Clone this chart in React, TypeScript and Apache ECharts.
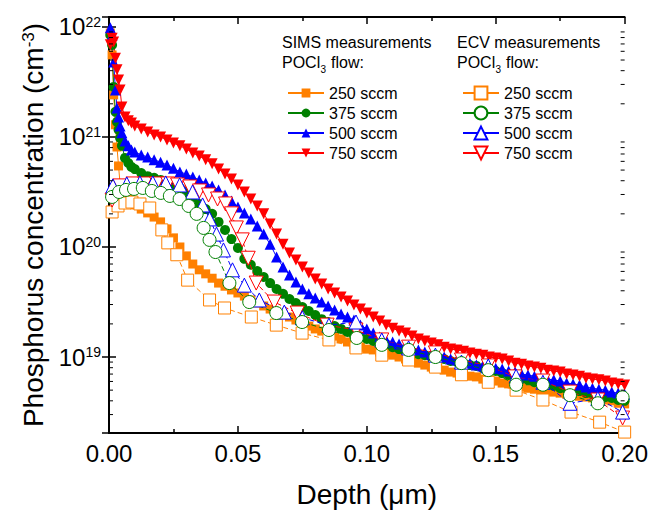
import React, { useEffect, useRef } from 'react';
import * as echarts from 'echarts';

const FONT = '"Liberation Sans", Arial, Helvetica, sans-serif';

// SIMS depth grid (µm)
const SIMS_DEPTH = [
  0.0005, 0.0012, 0.0018, 0.0025, 0.0031, 0.0037, 0.0043, 0.005, 0.0062, 0.0075, 0.0087,
  0.01, 0.0125, 0.015, 0.0175, 0.02, 0.0225, 0.025,
  0.0275, 0.03, 0.0325, 0.035, 0.0375, 0.04, 0.0425, 0.045, 0.0475, 0.05,
  0.0525, 0.055, 0.0575, 0.06, 0.0625, 0.065, 0.0675, 0.07, 0.0725, 0.075,
  0.0775, 0.08, 0.0825, 0.085, 0.0875, 0.09, 0.0925, 0.095, 0.0975, 0.1,
  0.1025, 0.105, 0.1075, 0.11, 0.1125, 0.115, 0.1175, 0.12, 0.1225, 0.125,
  0.1275, 0.13, 0.1325, 0.135, 0.1375, 0.14, 0.1425, 0.145, 0.1475, 0.15,
  0.1525, 0.155, 0.1575, 0.16, 0.1625, 0.165, 0.1675, 0.17, 0.1725, 0.175,
  0.1775, 0.18, 0.1825, 0.185, 0.1875, 0.19, 0.1925, 0.195, 0.1975, 0.2,
];

const SIMS_250 = [
  8.8e21, 5.56e21, 2.41e21, 1.29e21, 8.1e20, 5.45e20, 3.75e20, 3.3e20, 2.91e20, 2.73e20, 2.56e20,
  2.41e20, 2.21e20, 2.04e20, 1.87e20, 1.69e20, 1.46e20, 1.21e20,
  1.0e20, 8.3e19, 7.0e19, 6.2e19, 5.7e19, 5.2e19, 4.7e19, 4.4e19, 4.07e19, 3.82e19,
  3.58e19, 3.3e19, 3.1e19, 2.91e19, 2.73e19, 2.56e19, 2.46e19, 2.31e19, 2.17e19, 2.04e19,
  1.91e19, 1.8e19, 1.72e19, 1.62e19, 1.55e19, 1.46e19, 1.37e19, 1.29e19, 1.23e19, 1.18e19,
  1.16e19, 1.11e19, 1.09e19, 1.04e19, 1.0e19, 9.6e18, 9.2e18, 8.8e18, 8.45e18, 8.1e18,
  7.9e18, 7.6e18, 7.3e18, 7.15e18, 6.9e18, 6.7e18, 6.6e18, 6.3e18, 6.2e18, 6.05e18,
  5.8e18, 5.7e18, 5.45e18, 5.34e18, 5.2e18, 5.1e18, 5.0e18, 4.9e18, 4.8e18, 4.7e18,
  4.6e18, 4.5e18, 4.4e18, 4.33e18, 4.25e18, 4.15e18, 4.07e18, 4.0e18, 3.8e18, 3.75e18,
];

const SIMS_375 = [
  8.45e21, 6.86e21, 2.85e21, 1.69e21, 1.37e21, 1.16e21, 9.8e20, 8.3e20, 6.45e20, 5.8e20, 5.34e20,
  5.1e20, 4.7e20, 4.4e20, 4.25e20, 4.07e20, 3.9e20, 3.66e20,
  3.44e20, 3.16e20, 2.79e20, 2.46e20, 2.21e20, 2.0e20, 1.69e20, 1.43e20, 1.18e20, 9.8e19,
  7.8e19, 6.9e19, 6.05e19, 5.34e19, 4.7e19, 4.15e19, 3.75e19, 3.37e19, 3.1e19, 2.85e19,
  2.62e19, 2.41e19, 2.21e19, 2.08e19, 1.91e19, 1.8e19, 1.69e19, 1.58e19, 1.52e19, 1.46e19,
  1.4e19, 1.34e19, 1.29e19, 1.23e19, 1.18e19, 1.13e19, 1.11e19, 1.06e19, 1.04e19, 1.0e19,
  9.8e18, 9.6e18, 9.2e18, 9.0e18, 8.6e18, 8.45e18, 8.3e18, 7.9e18, 7.6e18, 7.46e18,
  7.15e18, 6.86e18, 6.58e18, 6.31e18, 6.2e18, 5.9e18, 5.7e18, 5.56e18, 5.45e18, 5.2e18,
  5.1e18, 5.0e18, 4.9e18, 4.7e18, 4.6e18, 4.5e18, 4.33e18, 4.25e18, 4.07e18, 4.0e18,
];

const SIMS_500 = [
  9.8e21, 8.45e21, 4.8e21, 2.67e21, 1.83e21, 1.52e21, 1.26e21, 1.09e21, 9.2e20, 8.3e20, 7.6e20,
  7.3e20, 6.86e20, 6.58e20, 6.2e20, 5.9e20, 5.56e20, 5.2e20,
  4.8e20, 4.6e20, 4.33e20, 4.07e20, 3.82e20, 3.58e20, 3.3e20, 2.97e20, 2.62e20, 2.31e20,
  2.04e20, 1.8e20, 1.55e20, 1.31e20, 1.06e20, 8.1e19, 6.58e19, 5.56e19, 4.8e19, 4.15e19,
  3.75e19, 3.44e19, 3.16e19, 2.91e19, 2.67e19, 2.46e19, 2.31e19, 2.17e19, 1.95e19, 1.8e19,
  1.65e19, 1.52e19, 1.43e19, 1.37e19, 1.31e19, 1.26e19, 1.21e19, 1.16e19, 1.11e19, 1.06e19,
  1.04e19, 1.0e19, 9.6e18, 9.4e18, 9.0e18, 8.8e18, 8.45e18, 8.3e18, 8.1e18, 7.9e18,
  7.8e18, 7.46e18, 7.3e18, 7.0e18, 6.86e18, 6.7e18, 6.45e18, 6.31e18, 6.2e18, 6.05e18,
  5.8e18, 5.7e18, 5.56e18, 5.34e18, 5.2e18, 5.1e18, 5.0e18, 4.8e18, 4.7e18, 4.6e18,
];

const SIMS_750 = [
  6.9e21, 7.9e21, 7.3e21, 5.2e21, 4.07e21, 3.3e21, 2.67e21, 1.87e21, 1.52e21, 1.4e21, 1.34e21,
  1.26e21, 1.18e21, 1.11e21, 1.04e21, 1.0e21, 9.4e20, 8.8e20,
  8.3e20, 7.78e20, 7.15e20, 6.7e20, 6.2e20, 5.7e20, 5.12e20, 4.6e20, 4.15e20, 3.66e20,
  3.16e20, 2.73e20, 2.36e20, 2.0e20, 1.62e20, 1.31e20, 1.06e20, 8.8e19, 7.6e19, 6.58e19,
  5.8e19, 5.12e19, 4.6e19, 4.15e19, 3.82e19, 3.51e19, 3.23e19, 2.97e19, 2.73e19, 2.51e19,
  2.31e19, 2.12e19, 1.95e19, 1.83e19, 1.72e19, 1.65e19, 1.55e19, 1.46e19, 1.4e19, 1.34e19,
  1.29e19, 1.23e19, 1.18e19, 1.16e19, 1.13e19, 1.09e19, 1.06e19, 1.04e19, 1.0e19, 9.8e18,
  9.6e18, 9.2e18, 8.8e18, 8.6e18, 8.3e18, 8.1e18, 7.9e18, 7.6e18, 7.46e18, 7.3e18,
  7.0e18, 6.86e18, 6.7e18, 6.45e18, 6.31e18, 6.2e18, 6.05e18, 5.8e18, 5.7e18, 5.56e18,
];

// ECV measurements
const ECV_250_DEPTH = [0.0012, 0.0035, 0.0062, 0.0089, 0.012, 0.0158, 0.0205, 0.0228, 0.0263, 0.0305, 0.039, 0.0448, 0.0552, 0.0649, 0.0749, 0.0853, 0.0958, 0.1058, 0.1162, 0.1266, 0.1367, 0.1471, 0.1579, 0.1683, 0.1792, 0.1903, 0.2];
const ECV_250 = [2.08e20, 2.36e20, 2.51e20, 2.56e20, 2.46e20, 2.26e20, 1.43e20, 1.09e20, 8.5e19, 5.0e19, 3.3e19, 2.79e19, 2.31e19, 1.95e19, 1.65e19, 1.43e19, 1.21e19, 1.04e19, 9.4e18, 8.1e18, 6.9e18, 5.9e18, 5.0e18, 4.07e18, 3.16e18, 2.56e18, 2.08e18];

const ECV_375_DEPTH = [0.0012, 0.0039, 0.0066, 0.0097, 0.0131, 0.0166, 0.0201, 0.0236, 0.0274, 0.0309, 0.034, 0.0367, 0.039, 0.0413, 0.0467, 0.0544, 0.0649, 0.0749, 0.0853, 0.0961, 0.1058, 0.1162, 0.1266, 0.1367, 0.1471, 0.1579, 0.1683, 0.1788, 0.1896, 0.1992];
const ECV_375 = [2.85e20, 3.16e20, 3.3e20, 3.37e20, 3.44e20, 3.23e20, 3.1e20, 2.91e20, 2.73e20, 2.36e20, 2.0e20, 1.49e20, 1.16e20, 9.0e19, 4.7e19, 3.16e19, 2.51e19, 2.08e19, 1.76e19, 1.49e19, 1.29e19, 1.16e19, 1.0e19, 8.8e18, 7.6e18, 5.6e18, 5.6e18, 4.5e18, 3.8e18, 4.3e18];

const ECV_500_DEPTH = [0.0015, 0.0069, 0.012, 0.017, 0.022, 0.0274, 0.0324, 0.0363, 0.039, 0.0417, 0.0444, 0.0479, 0.0525, 0.0583, 0.068, 0.075, 0.0853, 0.0958, 0.1058, 0.1162, 0.1266, 0.1367, 0.1471, 0.1579, 0.1683, 0.1788, 0.1896, 0.1992];
const ECV_500 = [3.59e20, 3.74e20, 3.82e20, 3.82e20, 3.82e20, 3.66e20, 3.16e20, 2.41e20, 1.8e20, 1.31e20, 9.4e19, 6.2e19, 4.5e19, 3.3e19, 2.56e19, 2.27e19, 1.95e19, 2.08e19, 1.43e19, 1.21e19, 1.04e19, 9.0e18, 8.3e18, 6.7e18, 5.9e18, 3.8e18, 4.2e18, 3.16e18];

const ECV_750_DEPTH = [0.0012, 0.0042, 0.0093, 0.0139, 0.0185, 0.0228, 0.0266, 0.0313, 0.0351, 0.0386, 0.0421, 0.0452, 0.0475, 0.0494, 0.0517, 0.054, 0.0571, 0.0641, 0.073, 0.0846, 0.0958, 0.1058, 0.1162, 0.1266, 0.1367, 0.1471, 0.1575, 0.1683, 0.1788, 0.1896, 0.1992];
const ECV_750 = [2.67e20, 3.59e20, 3.74e20, 3.74e20, 3.74e20, 3.74e20, 3.66e20, 3.51e20, 3.23e20, 2.97e20, 2.73e20, 2.46e20, 2.0e20, 1.49e20, 1.16e20, 7.9e19, 4.7e19, 3.16e19, 2.51e19, 1.95e19, 1.76e19, 1.43e19, 1.23e19, 1.09e19, 9.4e18, 8.3e18, 6.6e18, 6.05e18, 4.8e18, 4.07e18, 2.79e18];

// minor tick positions of the log axis
const Y_MINOR_TICKS = [
  3e18, 4e18, 5e18, 6e18, 7e18, 8e18, 9e18,
  2e19, 3e19, 4e19, 5e19, 6e19, 7e19, 8e19, 9e19,
  2e20, 3e20, 4e20, 5e20, 6e20, 7e20, 8e20, 9e20,
  2e21, 3e21, 4e21, 5e21, 6e21, 7e21, 8e21, 9e21,
];

const Y_MIN = 2.04e18;
const Y_MAX = 1.23e22;

const ORANGE = '#FF8000';
const GREEN = '#008000';
const BLUE = '#0000FF';
const RED = '#FF0000';

const FLOWS = ['250 sccm', '375 sccm', '500 sccm', '750 sccm'];

function App() {
  const ref = useRef<HTMLDivElement>(null);

  useEffect(() => {
    const chart = echarts.init(ref.current!, null, { renderer: 'svg' });

    const simsDefs = [
      { vals: SIMS_250, color: ORANGE, symbol: 'rect', size: 9, rot: 0 },
      { vals: SIMS_375, color: GREEN, symbol: 'circle', size: 10, rot: 0 },
      { vals: SIMS_500, color: BLUE, symbol: 'triangle', size: 11, rot: 0 },
      { vals: SIMS_750, color: RED, symbol: 'triangle', size: 11, rot: 180 },
    ];
    const ecvDefs = [
      { depth: ECV_250_DEPTH, vals: ECV_250, color: ORANGE, symbol: 'rect', size: 12, rot: 0, idx: 0 },
      { depth: ECV_750_DEPTH, vals: ECV_750, color: RED, symbol: 'triangle', size: 14, rot: 180, idx: 3 },
      { depth: ECV_500_DEPTH, vals: ECV_500, color: BLUE, symbol: 'triangle', size: 14, rot: 0, idx: 2 },
      { depth: ECV_375_DEPTH, vals: ECV_375, color: GREEN, symbol: 'circle', size: 13, rot: 0, idx: 1 },
    ];

    const simsSeries = simsDefs.map((s, i) => ({
      type: 'line',
      name: 'SIMS ' + FLOWS[i],
      data: SIMS_DEPTH.map((d, j) => [d, s.vals[j]]),
      symbol: s.symbol,
      symbolSize: s.size,
      symbolRotate: s.rot,
      showAllSymbol: true,
      itemStyle: { color: s.color },
      lineStyle: { color: s.color, width: 1 },
      z: 2,
    }));

    const ecvSeries = ecvDefs.map((s) => ({
      type: 'line',
      name: 'ECV ' + FLOWS[s.idx],
      data: s.depth.map((d, j) => [d, s.vals[j]]),
      symbol: s.symbol,
      symbolSize: s.size,
      symbolRotate: s.rot,
      showAllSymbol: true,
      itemStyle: { color: '#ffffff', borderColor: s.color, borderWidth: 1 },
      lineStyle: { color: s.color, width: 1, type: [5, 3] },
      z: 3,
    }));

    const minorSeries = {
      type: 'custom',
      name: 'minor',
      silent: true,
      clip: false,
      z: 10,
      data: Y_MINOR_TICKS.map((v) => [0, v]),
      encode: { x: 0, y: 1 },
      renderItem: (params: any, api: any) => {
        const y = api.coord([0, api.value(1)])[1];
        const cs = params.coordSys;
        return {
          type: 'group',
          children: [
            { type: 'line', shape: { x1: cs.x, y1: y, x2: cs.x + 4, y2: y }, style: { stroke: '#000', lineWidth: 1 } },
            { type: 'line', shape: { x1: cs.x + cs.width - 4, y1: y, x2: cs.x + cs.width, y2: y }, style: { stroke: '#000', lineWidth: 1 } },
          ],
        };
      },
    };

    const isPow10 = (v: number) => {
      const l = Math.log10(v);
      return Math.abs(l - Math.round(l)) < 1e-6;
    };

    const axisLine = { show: true, lineStyle: { color: '#000', width: 2 } };
    const legendBase = {
      orient: 'vertical',
      itemWidth: 36,
      itemGap: 4,
      top: 80,
      selectedMode: false,
      textStyle: { fontSize: 16, color: '#000', fontFamily: FONT },
      formatter: (name: string) => name.replace(/^(SIMS|ECV) /, ''),
      lineStyle: { type: 'solid' },
    };

    const textStyle = { fontSize: 16, fill: '#000', fontFamily: FONT };

    chart.setOption({
      animation: false,
      backgroundColor: '#ffffff',
      grid: { left: 109, right: 24, top: 17, bottom: 80 },
      xAxis: [
        {
          type: 'value',
          position: 'bottom',
          min: 0,
          max: 0.2,
          interval: 0.05,
          axisLine,
          axisTick: { show: true, inside: true, length: 7, lineStyle: { color: '#000', width: 1.5 } },
          minorTick: { show: true, splitNumber: 2, length: 4, lineStyle: { color: '#000', width: 1.5 } },
          splitLine: { show: false },
          axisLabel: { formatter: (v: number) => v.toFixed(2), fontSize: 24, color: '#000', fontFamily: FONT, margin: 8 },
          name: 'Depth (\u03bcm)',
          nameLocation: 'middle',
          nameGap: 47,
          nameTextStyle: { fontSize: 28, color: '#000', fontFamily: FONT },
        },
        {
          type: 'value',
          position: 'top',
          min: 0,
          max: 0.2,
          interval: 0.05,
          axisLine,
          axisTick: { show: true, inside: true, length: 7, lineStyle: { color: '#000', width: 1.5 } },
          minorTick: { show: true, splitNumber: 2, length: 4, lineStyle: { color: '#000', width: 1.5 } },
          splitLine: { show: false },
          axisLabel: { show: false },
        },
      ],
      yAxis: [
        {
          type: 'log',
          logBase: 10,
          position: 'left',
          min: Y_MIN,
          max: Y_MAX,
          axisLine,
          axisTick: { show: true, inside: true, length: 7, lineStyle: { color: '#000', width: 1.5 } },
          splitLine: { show: false },
          axisLabel: {
            margin: 8,
            formatter: (v: number) => (isPow10(v) ? `{b|10}{s|${Math.round(Math.log10(v))}}` : ''),
            rich: {
              b: { fontSize: 24, color: '#000', fontFamily: FONT },
              s: { fontSize: 14, color: '#000', fontFamily: FONT, verticalAlign: 'top', lineHeight: 14 },
            },
          },
          name: 'Phosphorus concentration (cm{sup|-3})',
          nameLocation: 'middle',
          nameGap: 57,
          nameTextStyle: {
            fontSize: 28,
            color: '#000',
            fontFamily: FONT,
            rich: {
              sup: { fontSize: 17, color: '#000', fontFamily: FONT, verticalAlign: 'top', lineHeight: 12 },
            },
          },
        },
        {
          type: 'log',
          logBase: 10,
          position: 'right',
          min: Y_MIN,
          max: Y_MAX,
          axisLine,
          axisTick: { show: true, inside: true, length: 7, lineStyle: { color: '#000', width: 1.5 } },
          splitLine: { show: false },
          axisLabel: { show: false },
        },
      ],
      legend: [
        { ...legendBase, left: 282, itemHeight: 11, data: FLOWS.map((f) => 'SIMS ' + f) },
        { ...legendBase, left: 457, itemHeight: 16, data: FLOWS.map((f) => 'ECV ' + f) },
      ],
      graphic: [
        { type: 'text', left: 282, top: 34, style: { text: 'SIMS measurements', ...textStyle } },
        { type: 'text', left: 282, top: 54, style: { text: 'POCl', ...textStyle } },
        { type: 'text', left: 320.5, top: 64, style: { text: '3', ...textStyle, fontSize: 10 } },
        { type: 'text', left: 331, top: 54, style: { text: 'flow:', ...textStyle } },
        { type: 'text', left: 457, top: 34, style: { text: 'ECV measurements', ...textStyle } },
        { type: 'text', left: 457, top: 54, style: { text: 'POCl', ...textStyle } },
        { type: 'text', left: 495.5, top: 64, style: { text: '3', ...textStyle, fontSize: 10 } },
        { type: 'text', left: 506, top: 54, style: { text: 'flow:', ...textStyle } },
      ],
      series: [...simsSeries, ...ecvSeries, minorSeries],
    } as any);

    return () => chart.dispose();
  }, []);

  return (
    <div
      ref={ref}
      style={{ position: 'absolute', left: 0, top: 0, width: 651, height: 513, background: '#fff' }}
    />
  );
}

export default App;
